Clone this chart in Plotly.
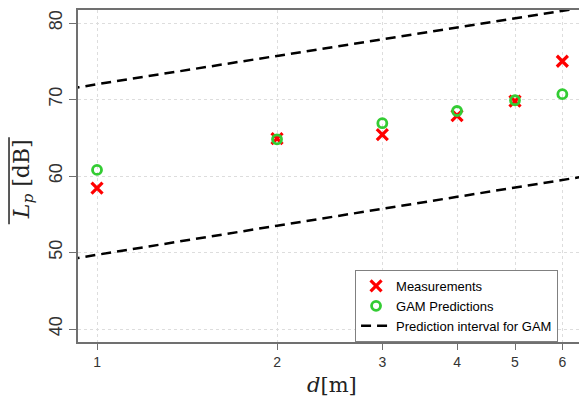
import plotly.graph_objects as go

d = [1, 2, 3, 4, 5, 6]
measurements = [58.4, 64.9, 65.4, 67.9, 69.8, 75.0]
gam_pred = [60.8, 64.8, 66.9, 68.5, 69.9, 70.7]

pi_d = [0.9, 1, 2, 3, 4, 5, 6, 6.6]
pi_upper = [71.4, 72.0, 75.7, 77.9, 79.4, 80.6, 81.6, 82.1]
pi_lower = [49.1, 49.7, 53.5, 55.7, 57.3, 58.5, 59.5, 60.0]

x_ticks = [1, 2, 3, 4, 5, 6]
y_ticks = [40, 50, 60, 70, 80]

fig = go.Figure()
fig.add_trace(go.Scatter(x=d, y=measurements, mode="markers", name="Measurements",
                         marker=dict(symbol="x-thin", size=11, color="#FF0000",
                                     line=dict(width=3.2, color="#FF0000"))))
fig.add_trace(go.Scatter(x=d, y=gam_pred, mode="markers", name="GAM Predictions",
                         marker=dict(symbol="circle-open", size=9, color="#33CC33",
                                     line=dict(width=2.8, color="#33CC33"))))
fig.add_trace(go.Scatter(x=pi_d, y=pi_upper, mode="lines", name="Prediction interval for GAM",
                         line=dict(color="black", width=2.5, dash="10px,6px")))
fig.add_trace(go.Scatter(x=pi_d, y=pi_lower, mode="lines", showlegend=False,
                         line=dict(color="black", width=2.5, dash="10px,6px")))

fig.update_layout(
    width=579, height=404,
    margin=dict(l=78, r=0, t=10, b=62),
    plot_bgcolor="white", paper_bgcolor="white",
    font=dict(family="Liberation Sans", color="#333333"),
    legend=dict(x=0.553, y=0, xanchor="left", yanchor="bottom",
                bgcolor="white", bordercolor="#808080", borderwidth=1,
                font=dict(family="Liberation Sans", size=13, color="black"),
                tracegroupgap=0, itemwidth=30),
    xaxis=dict(type="log", range=[-0.0318, 0.806], tickvals=x_ticks,
               ticktext=[str(v) for v in x_ticks], automargin=False,
               showgrid=True, gridcolor="#DDDDDD", griddash="dot", gridwidth=1,
               showline=True, linecolor="#707070", linewidth=1.5, mirror=True,
               ticks="outside", ticklen=6, tickcolor="#707070",
               tickfont=dict(size=14, color="#333333"),
               zeroline=False),
    yaxis=dict(range=[38.3, 81.7], tickvals=y_ticks, automargin=False,
               showgrid=True, gridcolor="#DDDDDD", griddash="dot", gridwidth=1,
               showline=True, linecolor="#707070", linewidth=1.5,
               ticks="outside", ticklen=7, tickcolor="#707070", tickangle=-90,
               tickfont=dict(size=18, color="#333333"),
               zeroline=False),
    annotations=[
        dict(text="<i>d</i>[m]", xref="paper", yref="paper", x=0.507, y=-0.1295,
             xanchor="center", yanchor="middle", showarrow=False,
             font=dict(family="DejaVu Serif", size=21, color="#222222")),
        dict(text="<i>L</i><sub><i>p</i></sub> [dB]", xref="paper", yref="paper",
             x=-0.11, y=0.49, xanchor="center", yanchor="middle", showarrow=False,
             textangle=-90, font=dict(family="DejaVu Serif", size=22, color="#222222")),
    ],
    shapes=[
        dict(type="line", xref="paper", yref="paper", x0=-0.1377, x1=-0.1377,
             y0=0.355, y1=0.617, line=dict(color="#222222", width=1.5)),
    ],
)

fig.write_html("out.html", config={"displayModeBar": False},
               post_script="document.body.style.margin='0';document.body.style.overflow='hidden';")
